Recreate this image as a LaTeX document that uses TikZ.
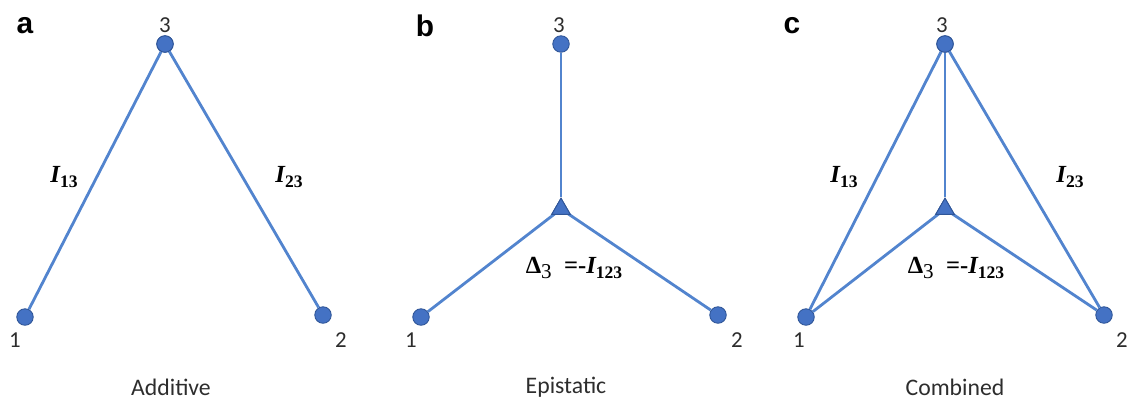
\documentclass[tikz,border=0pt]{standalone}
\usepackage{fontspec}
\setmainfont{Liberation Serif}
\setsansfont{Carlito}
\newfontfamily\headfont{Liberation Sans}
\usetikzlibrary{shapes.geometric}

\definecolor{linkblue}{RGB}{82,132,206}
\definecolor{dotblue}{RGB}{68,114,196}
\definecolor{dotedge}{RGB}{47,85,151}
\definecolor{inkgrey}{RGB}{45,45,45}

\newcommand{\lowidx}[1]{\raisebox{-0.45ex}{\fontsize{10}{11}\selectfont #1}}
\newcommand{\coefI}[1]{{\bfseries\itshape I}{\bfseries\lowidx{#1}}}

\begin{document}
\begin{tikzpicture}[x=0.02cm,y=-0.02cm,
  locus/.style={circle,fill=dotblue,draw=dotedge,line width=0.5pt,inner sep=0pt,minimum size=0.33cm},
  epi/.style={regular polygon,regular polygon sides=3,fill=dotblue,draw=dotedge,line width=0.5pt,inner sep=0pt,minimum size=0.43cm},
  link/.style={draw=linkblue,line width=1.6pt},
  num/.style={font=\sffamily\fontsize{13}{15}\selectfont,text=inkgrey},
  panel/.style={font=\headfont\bfseries\fontsize{17}{20}\selectfont},
  caption/.style={font=\sffamily\fontsize{13.5}{15}\selectfont,text=inkgrey},
  coef/.style={font=\fontsize{14}{16}\selectfont}]
\useasboundingbox (0,0) rectangle (1129,400);

% a: additive
\node[panel] (pa) at (25,26) {a};
\node[locus] (a3) at (165,44) {};
\node[locus] (a1) at (25,317) {};
\node[locus] (a2) at (323,315) {};
\draw[link] (a1) -- (a3) -- (a2);
\node[locus] at (a3) {};
\node[num] (na3) at (165,25) {3};
\node[num] (na1) at (15,340) {1};
\node[num] (na2) at (341,340) {2};
\node[coef] (ia13) at (64,177) {\coefI{13}};
\node[coef] (ia23) at (289,177) {\coefI{23}};
\node[caption] (ca) at (171,387) {Additive};

% b: epistatic
\node[panel] (pb) at (425,26) {b};
\node[locus] (b3) at (561,44) {};
\node[locus] (b1) at (421,317) {};
\node[locus] (b2) at (718,315) {};
\node[epi] (bt) at (561,209) {};
\draw[link] (b3) -- (bt.north);
\draw[link] (b1) -- (bt.center) -- (b2);
\node[epi] at (bt) {};
\node[num] (nb3) at (559,25) {3};
\node[num] (nb1) at (411,340) {1};
\node[num] (nb2) at (737,340) {2};
\node[coef] (db) at (574,268) {{\bfseries Δ}\lowidx{\fontsize{12}{13}\selectfont 3}\ \ {\bfseries =-}\coefI{123}};
\node[caption] (cb) at (566,387) {Epistatic};

% c: combined
\node[panel] (pc) at (792,26) {c};
\node[locus] (c3) at (945,44) {};
\node[locus] (c1) at (806,317) {};
\node[locus] (c2) at (1104,315) {};
\node[epi] (ct) at (945,209) {};
\draw[link] (c1) -- (c3) -- (c2);
\draw[link] (c3) -- (ct.north);
\draw[link] (c1) -- (ct.center) -- (c2);
\node[epi] at (ct) {};
\node[locus] at (c3) {};
\node[num] (nc3) at (942,25) {3};
\node[num] (nc1) at (799,340) {1};
\node[num] (nc2) at (1122,340) {2};
\node[coef] (ic13) at (844,177) {\coefI{13}};
\node[coef] (ic23) at (1070,177) {\coefI{23}};
\node[coef] (dc) at (956,268) {{\bfseries Δ}\lowidx{\fontsize{12}{13}\selectfont 3}\ \ {\bfseries =-}\coefI{123}};
\node[caption] (cc) at (955,387) {Combined};
\end{tikzpicture}
\end{document}
